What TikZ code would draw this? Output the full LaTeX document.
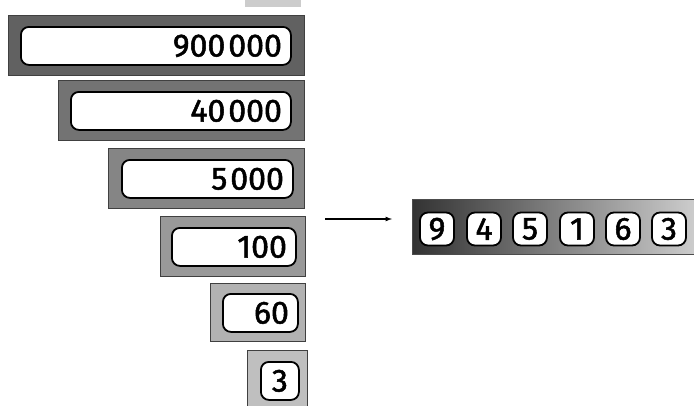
\documentclass[tikz,border=0pt]{standalone}
\usepackage{fontspec}
\setmainfont{Fira Sans}
\newfontfamily\numfont{Fira Sans}[FakeBold=1.6]
\newcommand{\tsp}{\kern3pt}
\tikzset{
  x=1pt, y=-1pt,
  outerbar/.style={fill=#1, draw=black!75, line width=0.8pt, inner sep=0pt, anchor=north west},
  numbox/.style={draw=black, line width=1.8pt, fill=white, rounded corners=8pt,
     inner xsep=9pt, inner ysep=0pt, minimum height=38pt, align=right,
     font=\numfont\fontsize{32}{32}\selectfont, anchor=north west},
  digbox/.style={draw=black, line width=1.8pt, fill=white, rounded corners=8pt,
     inner sep=0pt, minimum width=34pt, minimum height=33pt,
     font=\numfont\fontsize{32}{32}\selectfont},
  arr/.style={-latex, line width=1.2pt}
}
\begin{document}
\begin{tikzpicture}
\useasboundingbox (0,0) rectangle (694,405);
% partial strip at top
\fill[black!20] (245,0) rectangle (301,7);
% bars
\node[outerbar=black!62, minimum width=296pt, minimum height=60pt] (o1) at (8,15) {};
\node[numbox, text width=252pt] (n1) at (20,26) {900\tsp000};
\node[outerbar=black!55, minimum width=246pt, minimum height=60pt] (o2) at (58,80) {};
\node[numbox, text width=202pt] (n2) at (70,91) {40\tsp000};
\node[outerbar=black!48, minimum width=196pt, minimum height=60pt] (o3) at (108,148) {};
\node[numbox, text width=153pt] (n3) at (121,159) {5\tsp000};
\node[outerbar=black!40, minimum width=145pt, minimum height=60pt] (o4) at (160,216) {};
\node[numbox, text width=106pt] (n4) at (171,227) {100};
\node[outerbar=black!30, minimum width=95pt, minimum height=58pt] (o5) at (210,283) {};
\node[numbox, text width=57pt] (n5) at (222,293) {60};
\node[outerbar=black!25, minimum width=60pt, minimum height=56pt] (o6) at (247,350) {};
\node[numbox, text width=28pt, inner xsep=5pt, align=center] (n6) at (260,361) {3};
% result strip
\node[anchor=north west, minimum width=282pt, minimum height=55pt, inner sep=0pt,
      left color=black!80, right color=black!20, draw=black!70, line width=0.8pt] (strip) at (412,199) {};
\node[digbox] (d1) at (437,229) {9};
\node[digbox] (d2) at (484,229) {4};
\node[digbox] (d3) at (530,229) {5};
\node[digbox] (d4) at (577,229) {1};
\node[digbox] (d5) at (623,229) {6};
\node[digbox] (d6) at (669,229) {3};
% arrow
\coordinate (a0) at (325,219);
\draw[arr, shorten >=20pt] (a0) -- (a0 -| strip.west);
\end{tikzpicture}
\end{document}
